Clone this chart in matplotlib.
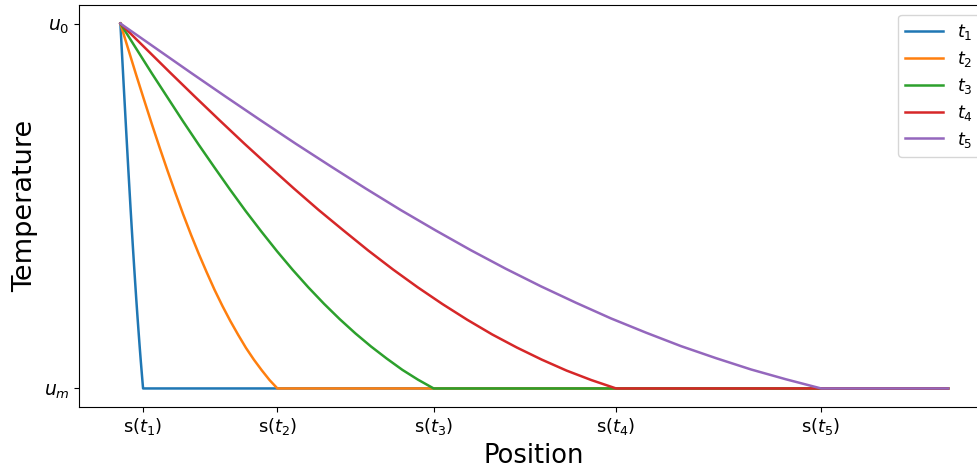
import matplotlib
matplotlib.use("Agg")
import matplotlib.pyplot as plt

# -- datos ---------------------------------------------------------------------
# posicion normalizada (inicio = 0, final del dominio = 1), temperatura u_m = 0, u_0 = 1
x_end = 1.0
u_0, u_m = 1, 0
s_vals = [0.0274, 0.1897, 0.3785, 0.5989, 0.8466]
s_labels = ["s($t_1$)", "s($t_2$)", "s($t_3$)", "s($t_4$)", "s($t_5$)"]
legend_labels = ["$t_1$", "$t_2$", "$t_3$", "$t_4$", "$t_5$"]

# fraccion del frente s(t) donde se leyo cada curva
xi_read = [0, 0.05, 0.10, 0.15, 0.20, 0.25, 0.30, 0.35, 0.40, 0.45, 0.50,
           0.55, 0.60, 0.65, 0.70, 0.75, 0.80, 0.85, 0.90, 0.95, 1.0]

u_t1 = [1, 0.942, 0.884, 0.826, 0.769, 0.712, 0.656, 0.600, 0.546, 0.492, 0.440,
        0.389, 0.340, 0.292, 0.245, 0.200, 0.157, 0.115, 0.075, 0.037, 0]
u_t2 = [1, 0.930, 0.860, 0.792, 0.725, 0.660, 0.597, 0.536, 0.477, 0.421, 0.368,
        0.318, 0.270, 0.226, 0.185, 0.147, 0.111, 0.079, 0.050, 0.023, 0]
u_t3 = [1, 0.932, 0.864, 0.798, 0.732, 0.668, 0.606, 0.545, 0.486, 0.430, 0.376,
        0.325, 0.277, 0.232, 0.190, 0.151, 0.115, 0.082, 0.051, 0.024, 0]
u_t4 = [1, 0.933, 0.866, 0.800, 0.735, 0.671, 0.609, 0.548, 0.489, 0.433, 0.378,
        0.326, 0.277, 0.231, 0.188, 0.148, 0.112, 0.079, 0.049, 0.023, 0]
u_t5 = [1, 0.933, 0.866, 0.800, 0.735, 0.671, 0.609, 0.548, 0.489, 0.433, 0.379,
        0.328, 0.280, 0.235, 0.192, 0.153, 0.116, 0.083, 0.052, 0.025, 0]

curves = [u_t1, u_t2, u_t3, u_t4, u_t5]

# -- figura ----------------------------------------------------------------------
fig = plt.figure(figsize=(9.78, 4.70), dpi=100)
ax = fig.add_axes([79 / 978, 1 - 406.7 / 470, 910.5 / 978, 401.4 / 470])

for s, us, lab in zip(s_vals, curves, legend_labels):
    xs = [f * s for f in xi_read] + [x_end]
    ax.plot(xs, us + [u_m], linewidth=1.8, label=lab)

ax.set_xticks(s_vals)
ax.set_xticklabels(s_labels, fontsize=13)
ax.set_yticks([u_m, u_0])
ax.set_yticklabels(["$u_m$", "$u_0$"], fontsize=13.5)
ax.set_xlabel("Position", fontsize=18.5)
ax.set_ylabel("Temperature", fontsize=19.5)
ax.legend(fontsize=12.5, loc="upper right", handlelength=2.2,
          borderaxespad=0.55, labelspacing=0.4)

plt.savefig("out.png", dpi=100)
plt.close()
